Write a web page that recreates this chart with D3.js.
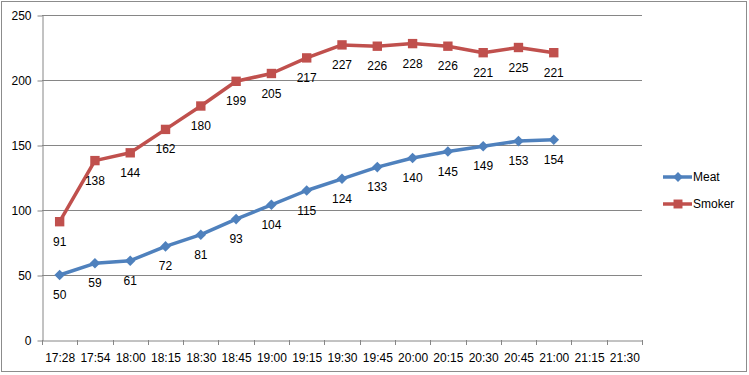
<!DOCTYPE html>
<html>
<head>
<meta charset="utf-8">
<script src="https://cdn.jsdelivr.net/npm/d3@7"></script>
<style>
  body { margin: 0; background: #fff; }
  text { font-family: "Liberation Sans", Arial, sans-serif; font-size: 12px; fill: #000; }
</style>
</head>
<body>
<svg id="chart" width="749" height="375"></svg>
<script>
const times = ["17:28", "17:54", "18:00", "18:15", "18:30", "18:45", "19:00", "19:15",
  "19:30", "19:45", "20:00", "20:15", "20:30", "20:45", "21:00", "21:15", "21:30"];
const meat = [50, 59, 61, 72, 81, 93, 104, 115, 124, 133, 140, 145, 149, 153, 154];
const smoker = [91, 138, 144, 162, 180, 199, 205, 217, 227, 226, 228, 226, 221, 225, 221];
const yTicks = [0, 50, 100, 150, 200, 250];

const svg = d3.select("#chart");
const plotLeft = 42, plotRight = 642, plotTop = 15, plotBottom = 340;

// outer chart border
svg.append("rect")
    .attr("x", 1.5).attr("y", 1.5)
    .attr("width", 745).attr("height", 370)
    .attr("fill", "#fff")
    .attr("stroke", "#8c8c8c");

const x = d3.scaleBand().domain(times).range([plotLeft, plotRight]);
const y = d3.scaleLinear().domain([0, 250]).range([plotBottom, plotTop]);

// gridlines
svg.append("g")
    .selectAll("line")
    .data(yTicks.filter(d => d > 0))
    .enter().append("line")
    .attr("x1", plotLeft).attr("x2", plotRight)
    .attr("y1", d => Math.round(y(d)) + 0.5)
    .attr("y2", d => Math.round(y(d)) + 0.5)
    .attr("stroke", "#868686");

// y axis
const yAxis = svg.append("g")
    .attr("transform", `translate(${plotLeft + 0.5},0.5)`)
    .call(d3.axisLeft(y).tickValues(yTicks).tickSize(5).tickPadding(6).tickSizeOuter(0));
yAxis.select(".domain").attr("stroke", "#868686");
yAxis.selectAll(".tick line").attr("stroke", "#868686");
yAxis.selectAll("text").style("font-size", "12px");

// x axis
const xAxis = svg.append("g")
    .attr("transform", `translate(0.5,${plotBottom + 0.5})`)
    .call(d3.axisBottom(x).tickSize(0).tickPadding(13));
xAxis.select(".domain").attr("stroke", "#868686");
xAxis.selectAll("text").style("font-size", "12px");

// category boundary ticks
const bounds = times.map(t => x(t)).concat([plotRight]);
svg.append("g")
    .selectAll("line")
    .data(bounds)
    .enter().append("line")
    .attr("x1", d => Math.round(d) + 0.5).attr("x2", d => Math.round(d) + 0.5)
    .attr("y1", plotBottom).attr("y2", plotBottom + 5)
    .attr("stroke", "#868686");

const cx = i => x(times[i]) + x.bandwidth() / 2;
const line = d3.line().x((d, i) => cx(i)).y(d => y(d));

// diamond = square turned 45 degrees, like Excel markers
const marker = (shape, size) => d3.symbol().type(d3.symbolSquare).size(size)();

const series = [
  { name: "Meat", values: meat, color: "#4F81BD", rot: 45, size: 56 },
  { name: "Smoker", values: smoker, color: "#C0504D", rot: 0, size: 88 }
];

series.forEach(s => {
  svg.append("path")
      .datum(s.values)
      .attr("fill", "none")
      .attr("stroke", s.color)
      .attr("stroke-width", 3.5)
      .attr("stroke-linejoin", "round")
      .attr("d", line);

  svg.append("g")
      .selectAll("path")
      .data(s.values)
      .enter().append("path")
      .attr("transform", (d, i) => `translate(${cx(i)},${y(d)}) rotate(${s.rot})`)
      .attr("d", marker(s.rot, s.size))
      .attr("fill", s.color);

  svg.append("g")
      .selectAll("text")
      .data(s.values)
      .enter().append("text")
      .attr("x", (d, i) => cx(i))
      .attr("y", d => y(d) + 24)
      .attr("text-anchor", "middle")
      .text(d => d);
});

// legend
const legend = svg.append("g")
    .selectAll("g")
    .data(series)
    .enter().append("g")
    .attr("transform", (d, i) => `translate(663,${177 + i * 27})`);

legend.append("line")
    .attr("x1", 0).attr("x2", 29)
    .attr("stroke", d => d.color)
    .attr("stroke-width", 3.5);
legend.append("path")
    .attr("transform", d => `translate(15,0) rotate(${d.rot})`)
    .attr("d", d => marker(d.rot, d.size - 8))
    .attr("fill", d => d.color);
legend.append("text")
    .attr("x", 30)
    .attr("y", 4)
    .text(d => d.name);
</script>
</body>
</html>
